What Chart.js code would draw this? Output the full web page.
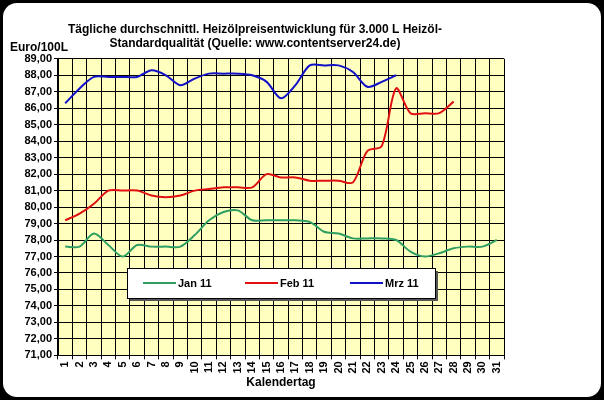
<!DOCTYPE html>
<html><head><meta charset="utf-8">
<script src="https://cdn.jsdelivr.net/npm/chart.js@4"></script>
<style>
html,body{margin:0;padding:0;background:#000;}
#wrap{position:relative;width:604px;height:400px;background:#000;}
#card{position:absolute;left:3px;top:3px;right:3px;bottom:3px;background:#fff;border-radius:14px;}
canvas{position:absolute;left:0;top:0;}
</style></head><body>
<div id="wrap"><div id="card"></div><canvas id="c" width="604" height="400"></canvas></div>
<script>
const days = Array.from({length:31},(_,i)=>String(i+1));
const jan11 = [77.6,77.6,78.4,77.7,77.0,77.7,77.6,77.6,77.6,78.3,79.2,79.7,79.8,79.2,79.2,79.2,79.2,79.1,78.5,78.4,78.1,78.1,78.1,78.0,77.3,77.0,77.2,77.5,77.6,77.6,78.0];
const feb11 = [79.2,79.6,80.2,81.0,81.0,81.0,80.7,80.6,80.7,81.0,81.1,81.2,81.2,81.2,82.0,81.8,81.8,81.6,81.6,81.6,81.5,83.4,83.7,87.2,85.7,85.7,85.7,86.4];
const mrz11 = [86.3,87.2,87.9,87.9,87.9,87.9,88.3,88.0,87.4,87.8,88.1,88.1,88.1,88.0,87.6,86.6,87.4,88.6,88.6,88.6,88.2,87.3,87.6,88.0];
const seriesNames = ['Jan 11','Feb 11','Mrz 11'];
const colors = ['#2e9e62','#e01010','#1010c8'];
const F = "'Liberation Sans', Arial, sans-serif";

const bgPlugin = {
  id:'bg',
  beforeDraw(ch){
    const {ctx, chartArea:a} = ch;
    ctx.save();
    ctx.fillStyle='#ffffc0';
    ctx.fillRect(a.left,a.top,a.right-a.left,a.bottom-a.top);
    ctx.fillStyle='#000';
    ctx.font='bold 12px '+F;
    ctx.textAlign='left';ctx.textBaseline='middle';
    ctx.fillText('Euro/100L',10,48);
    ctx.restore();
  },
  afterDraw(ch){
    const {ctx} = ch;
    const x0=127,y0=268,w=308,h=30;
    ctx.save();
    ctx.fillStyle='#fff';ctx.fillRect(x0,y0,w,h);
    ctx.strokeStyle='#000';ctx.lineWidth=1;ctx.strokeRect(x0+0.5,y0+0.5,w,h);
    ctx.fillStyle='#555';ctx.fillRect(x0+w+1,y0+3,2,h);ctx.fillRect(x0+3,y0+h+1,w,2);
    ctx.font='bold 11px '+F;ctx.textBaseline='middle';ctx.textAlign='left';
    const starts=[143,245,350];
    ch.data.datasets.forEach((d,i)=>{
      ctx.strokeStyle=d.borderColor;ctx.lineWidth=2;
      ctx.beginPath();ctx.moveTo(starts[i],y0+h/2);ctx.lineTo(starts[i]+33,y0+h/2);ctx.stroke();
      ctx.fillStyle='#000';ctx.fillText(d.label,starts[i]+35,y0+h/2+1);
    });
    ctx.restore();
  }
};

new Chart(document.getElementById('c'),{
  type:'line',
  data:{labels:days,datasets:[
    {label:seriesNames[0],data:jan11,borderColor:colors[0]},
    {label:seriesNames[1],data:feb11,borderColor:colors[1]},
    {label:seriesNames[2],data:mrz11,borderColor:colors[2]}
  ].map(d=>Object.assign(d,{borderWidth:2,pointRadius:0,tension:0.3,fill:false}))},
  options:{
    responsive:false,animation:false,
    layout:{padding:{left:6,right:100,top:0,bottom:6}},
    plugins:{legend:{display:false},tooltip:{enabled:false},
      title:{display:true,text:['Tägliche durchschnittl. Heizölpreisentwicklung für 3.000 L Heizöl-','Standardqualität (Quelle: www.contentserver24.de)'],
        color:'#000',font:{family:F,size:12,weight:'bold'},padding:{top:22,bottom:8},lineHeight:1.35}},
    scales:{
      x:{offset:true,
        grid:{offset:true,color:'#000',lineWidth:1,drawTicks:true,tickLength:4},
        border:{color:'#000'},
        ticks:{color:'#000',font:{family:F,size:11,weight:'bold'},maxRotation:90,minRotation:90,autoSkip:false,padding:2},
        title:{display:true,text:'Kalendertag',color:'#000',font:{family:F,size:12,weight:'bold'},padding:{top:0}}},
      y:{min:71,max:89,
        afterFit(s){s.width=52;},
        grid:{color:'#000',lineWidth:1,tickLength:4},
        border:{color:'#000'},
        ticks:{stepSize:1,color:'#000',font:{family:F,size:11,weight:'bold'},padding:2,
          callback:v=>v.toFixed(2).replace('.',',')}}
    }
  },
  plugins:[bgPlugin]
});
</script></body></html>
